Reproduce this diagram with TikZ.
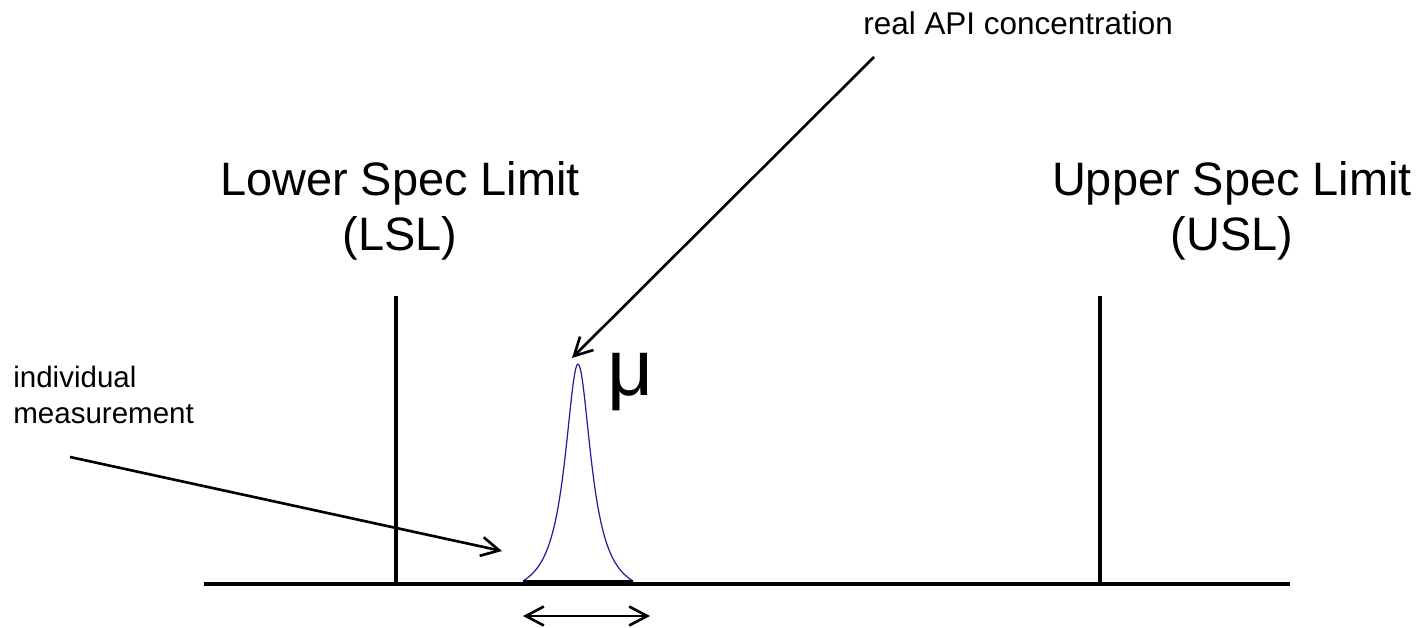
\documentclass[tikz,border=0pt]{standalone}
\usepackage{fontspec}
\setmainfont{Liberation Sans}
\usetikzlibrary{arrows.meta}
\definecolor{curveblue}{HTML}{20209A}
\tikzset{speclabel/.style={font=\fontsize{26.7}{31.2}\selectfont, align=center, inner sep=0pt},
  notelabel/.style={font=\fontsize{16.8}{20.4}\selectfont, align=left, inner sep=0pt},
  limitline/.style={line width=1.9pt},
  pointer/.style={-{Straight Barb[length=3.6mm, width=3.8mm]}, line width=1.5pt},
  spread/.style={{Straight Barb[length=3.6mm, width=3.8mm]}-{Straight Barb[length=3.6mm, width=3.8mm]}, line width=1.5pt},
  bellcurve/.style={curveblue, line width=0.7pt}}

\begin{document}
\begin{tikzpicture}[x=0.02cm, y=-0.02cm]
    \useasboundingbox (0,0) rectangle (1425,628);
    % axis and the two limits
    \coordinate (axis start) at (204,584);
    \coordinate (axis end) at (1290,584);
    \coordinate (lsl top) at (396,296);
    \coordinate (lsl foot) at (396,584);
    \coordinate (usl top) at (1100,296);
    \coordinate (usl foot) at (1100,584);
    \draw[limitline] (axis start) -- (axis end);
    \draw[limitline] (lsl top) -- (lsl foot);
    \draw[limitline] (usl top) -- (usl foot);
    \node[speclabel, anchor=base] (lsl) at (400,250) {Lower Spec Limit\\(LSL)};
    \node[speclabel, anchor=base] (usl) at (1232,250) {Upper Spec Limit\\(USL)};
    % measurement distribution
    \coordinate (curve left) at (523,581);
    \coordinate (curve right) at (633,581);
    \draw[bellcurve] plot[domain=-55:55, samples=120]
      ({578+\x},{581-217*(1/(1+(\x/16)^2)-0.078)/0.922});
    \draw[line width=0.6pt] (curve left) -- (curve right);
    \node[font=\fontsize{45.5}{50}\selectfont, inner sep=0pt, anchor=base west] (mu) at (607,395) {μ};
    \coordinate (spread left) at (523,616);
    \coordinate (spread right) at (650,616);
    \draw[spread] (spread left) -- (spread right);
    % pointers
    \node[notelabel, font=\fontsize{17.9}{21}\selectfont, anchor=base west] (real) at (863,35) {real API concentration};
    \coordinate (real tail) at (874,57);
    \coordinate (real tip) at (572,358);
    \draw[pointer] (real tail) -- (real tip);
    \node[notelabel, anchor=base west] (single) at (13,423) {individual\\measurement};
    \coordinate (single tail) at (70,457);
    \coordinate (single tip) at (502,551);
    \draw[pointer] (single tail) -- (single tip);
  \end{tikzpicture}
\end{document}
